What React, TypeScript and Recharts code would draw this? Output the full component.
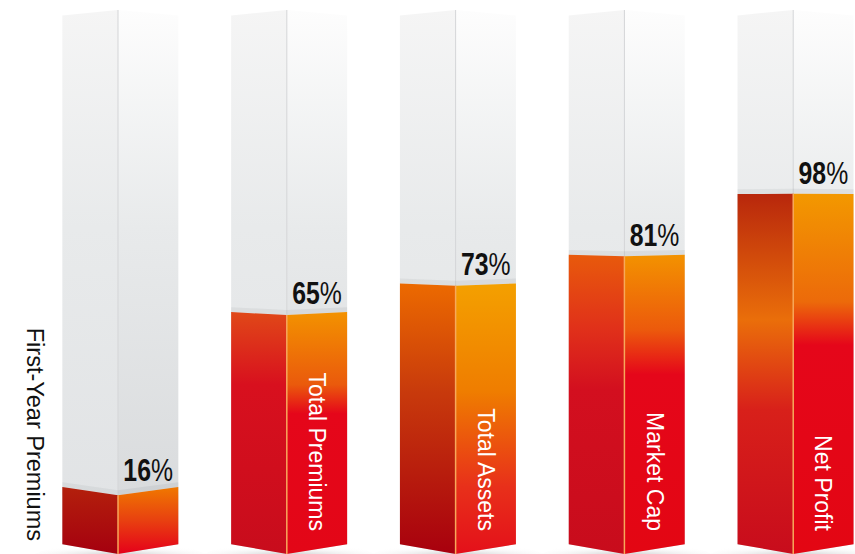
import React from 'react';
import { BarChart, Bar, XAxis, YAxis, LabelList } from 'recharts';

const categories = ['First-Year Premiums', 'Total Premiums', 'Total Assets', 'Market Cap', 'Net Profit'];
const shares = [16, 65, 73, 81, 98];
const data = categories.map((name, i) => ({ name, share: shares[i] }));

// fake perspective: outer corners rise below the eye line, drop above it
const HORIZON = 205;
const TILT = 0.028;
const SPLIT = 0.48;
const lift = (y: number) => TILT * (y - HORIZON);

// gradient stops for the left and right face of each red block
const leftStops = [
  [['0', '#b3200c'], ['1', '#a5000f']],
  [['0', '#e04818'], ['0.3', '#d8101e'], ['1', '#c80c1c']],
  [['0', '#ec6a00'], ['0.4', '#c83a0c'], ['1', '#a8000e']],
  [['0', '#e85a0c'], ['0.25', '#e0301a'], ['0.45', '#d30f1f'], ['1', '#c80c1c']],
  [['0', '#b8270c'], ['0.35', '#ea6e0a'], ['0.6', '#d8201a'], ['1', '#c80c1c']],
];
const rightStops = [
  [['0', '#f07800'], ['0.5', '#e84010'], ['1', '#e5001a']],
  [['0', '#f39200'], ['0.3', '#ea5a0c'], ['0.42', '#e5061a'], ['1', '#e30617']],
  [['0', '#f4a000'], ['0.4', '#ef7d00'], ['0.75', '#e8301a'], ['1', '#e4101a']],
  [['0', '#f39200'], ['0.25', '#ec5a0c'], ['0.4', '#e5061a'], ['1', '#e30613']],
  [['0', '#f39800'], ['0.3', '#ec6a0a'], ['0.42', '#e5061a'], ['1', '#e30613']],
];

function faces(x: number, width: number, top: number, bottom: number) {
  const xm = x + width * SPLIT;
  const xr = x + width;
  const tOut = top - lift(top);
  const bOut = bottom - lift(bottom);
  return {
    xm,
    xr,
    left: `${x},${tOut} ${xm},${top} ${xm},${bottom} ${x},${bOut}`,
    right: `${xm},${top} ${xr},${tOut} ${xr},${bOut} ${xm},${bottom}`,
  };
}

function GreyColumn(props: any) {
  const { x, y, width, height } = props;
  const bottom = y + height;
  const f = faces(x, width, y, bottom);
  return (
    <g>
      <polygon
        points={`${x - 32},${bottom + 2} ${x},${bottom - 12} ${f.xr},${bottom - 12} ${f.xr + 32},${bottom + 2}`}
        fill="url(#floor)"
      />
      <polygon points={f.left} fill="url(#greyL)" />
      <polygon points={f.right} fill="url(#greyR)" />
      <line x1={f.xm} y1={y} x2={f.xm} y2={bottom} stroke="#d4d5d7" strokeWidth={1} />
    </g>
  );
}

function FillColumn(props: any) {
  const { x, y, width, height, index } = props;
  const bottom = y + height;
  const f = faces(x, width, y, bottom);
  const shade = faces(x, width, y - 5, y);
  return (
    <g>
      <polygon points={shade.left} fill="#8f9397" opacity={0.12} />
      <polygon points={shade.right} fill="#8f9397" opacity={0.15} />
      <polygon points={f.left} fill={`url(#fillL${index})`} />
      <polygon points={f.right} fill={`url(#fillR${index})`} />
      <line x1={f.xm} y1={y} x2={f.xm} y2={bottom} stroke="#f7a85a" strokeWidth={1.5} />
    </g>
  );
}

function ShareLabel(props: any) {
  const { x, y, width, value } = props;
  const xm = x + width * SPLIT;
  const cx = xm + (x + width - xm) / 2;
  const by = y - lift(y) / 2 - 10;
  return (
    <text
      x={0}
      y={0}
      transform={`translate(${cx}, ${by}) scale(0.8, 1)`}
      textAnchor="middle"
      fontFamily="'Liberation Sans', Arial, sans-serif"
      fontSize={31}
      fill="#111"
    >
      <tspan fontWeight="bold">{value}</tspan>
      <tspan fontWeight="normal">%</tspan>
    </text>
  );
}

function NameLabel(props: any) {
  const { x, y, width, height, value } = props;
  const xm = x + width * SPLIT;
  const inside = height > 200;
  const cx = inside ? xm + (x + width - xm) / 2 : x - 27;
  const ey = y + height - (inside ? 23 : 13);
  return (
    <text
      x={cx}
      y={ey}
      transform={`rotate(90, ${cx}, ${ey})`}
      textAnchor="end"
      dominantBaseline="central"
      fontFamily="'Liberation Sans', Arial, sans-serif"
      fontSize={inside ? 23 : 23.5}
      fill={inside ? '#ffffff' : '#111111'}
    >
      {value}
    </text>
  );
}

export default function App() {
  return (
    <div style={{ position: 'absolute', left: 0, top: 0, width: 855, height: 554, overflow: 'hidden', background: '#fff' }}>
      <BarChart
        width={880}
        height={554}
        data={data}
        margin={{ top: 10, right: 0, bottom: 0, left: 36 }}
        barCategoryGap="15.6%"
      >
        <defs>
          <linearGradient id="greyL" x1="0" y1="0" x2="0" y2="1">
            <stop offset="0" stopColor="#f5f5f5" />
            <stop offset="0.4" stopColor="#e8eaeb" />
            <stop offset="1" stopColor="#e0e2e4" />
          </linearGradient>
          <linearGradient id="greyR" x1="0" y1="0" x2="0" y2="1">
            <stop offset="0" stopColor="#fdfdfd" />
            <stop offset="0.4" stopColor="#e8eaeb" />
            <stop offset="1" stopColor="#d6d8da" />
          </linearGradient>
          <radialGradient id="floor" cx="0.5" cy="0.9" r="0.6">
            <stop offset="0" stopColor="#b8b8b8" stopOpacity={0.7} />
            <stop offset="1" stopColor="#ffffff" stopOpacity={0} />
          </radialGradient>
          {leftStops.map((stops, i) => (
            <linearGradient key={`l${i}`} id={`fillL${i}`} x1="0" y1="0" x2="0" y2="1">
              {stops.map(([o, c]) => (
                <stop key={o} offset={o} stopColor={c} />
              ))}
            </linearGradient>
          ))}
          {rightStops.map((stops, i) => (
            <linearGradient key={`r${i}`} id={`fillR${i}`} x1="0" y1="0" x2="0" y2="1">
              {stops.map(([o, c]) => (
                <stop key={o} offset={o} stopColor={c} />
              ))}
            </linearGradient>
          ))}
        </defs>
        <XAxis dataKey="name" hide />
        <YAxis domain={[0, 148]} hide />
        <Bar
          dataKey="share"
          isAnimationActive={false}
          background={(p: any) => <GreyColumn key={`bg${p.index}`} {...p} />}
          shape={(p: any) => <FillColumn {...p} />}
        >
          <LabelList dataKey="share" content={ShareLabel} />
          <LabelList dataKey="name" content={NameLabel} />
        </Bar>
      </BarChart>
    </div>
  );
}
